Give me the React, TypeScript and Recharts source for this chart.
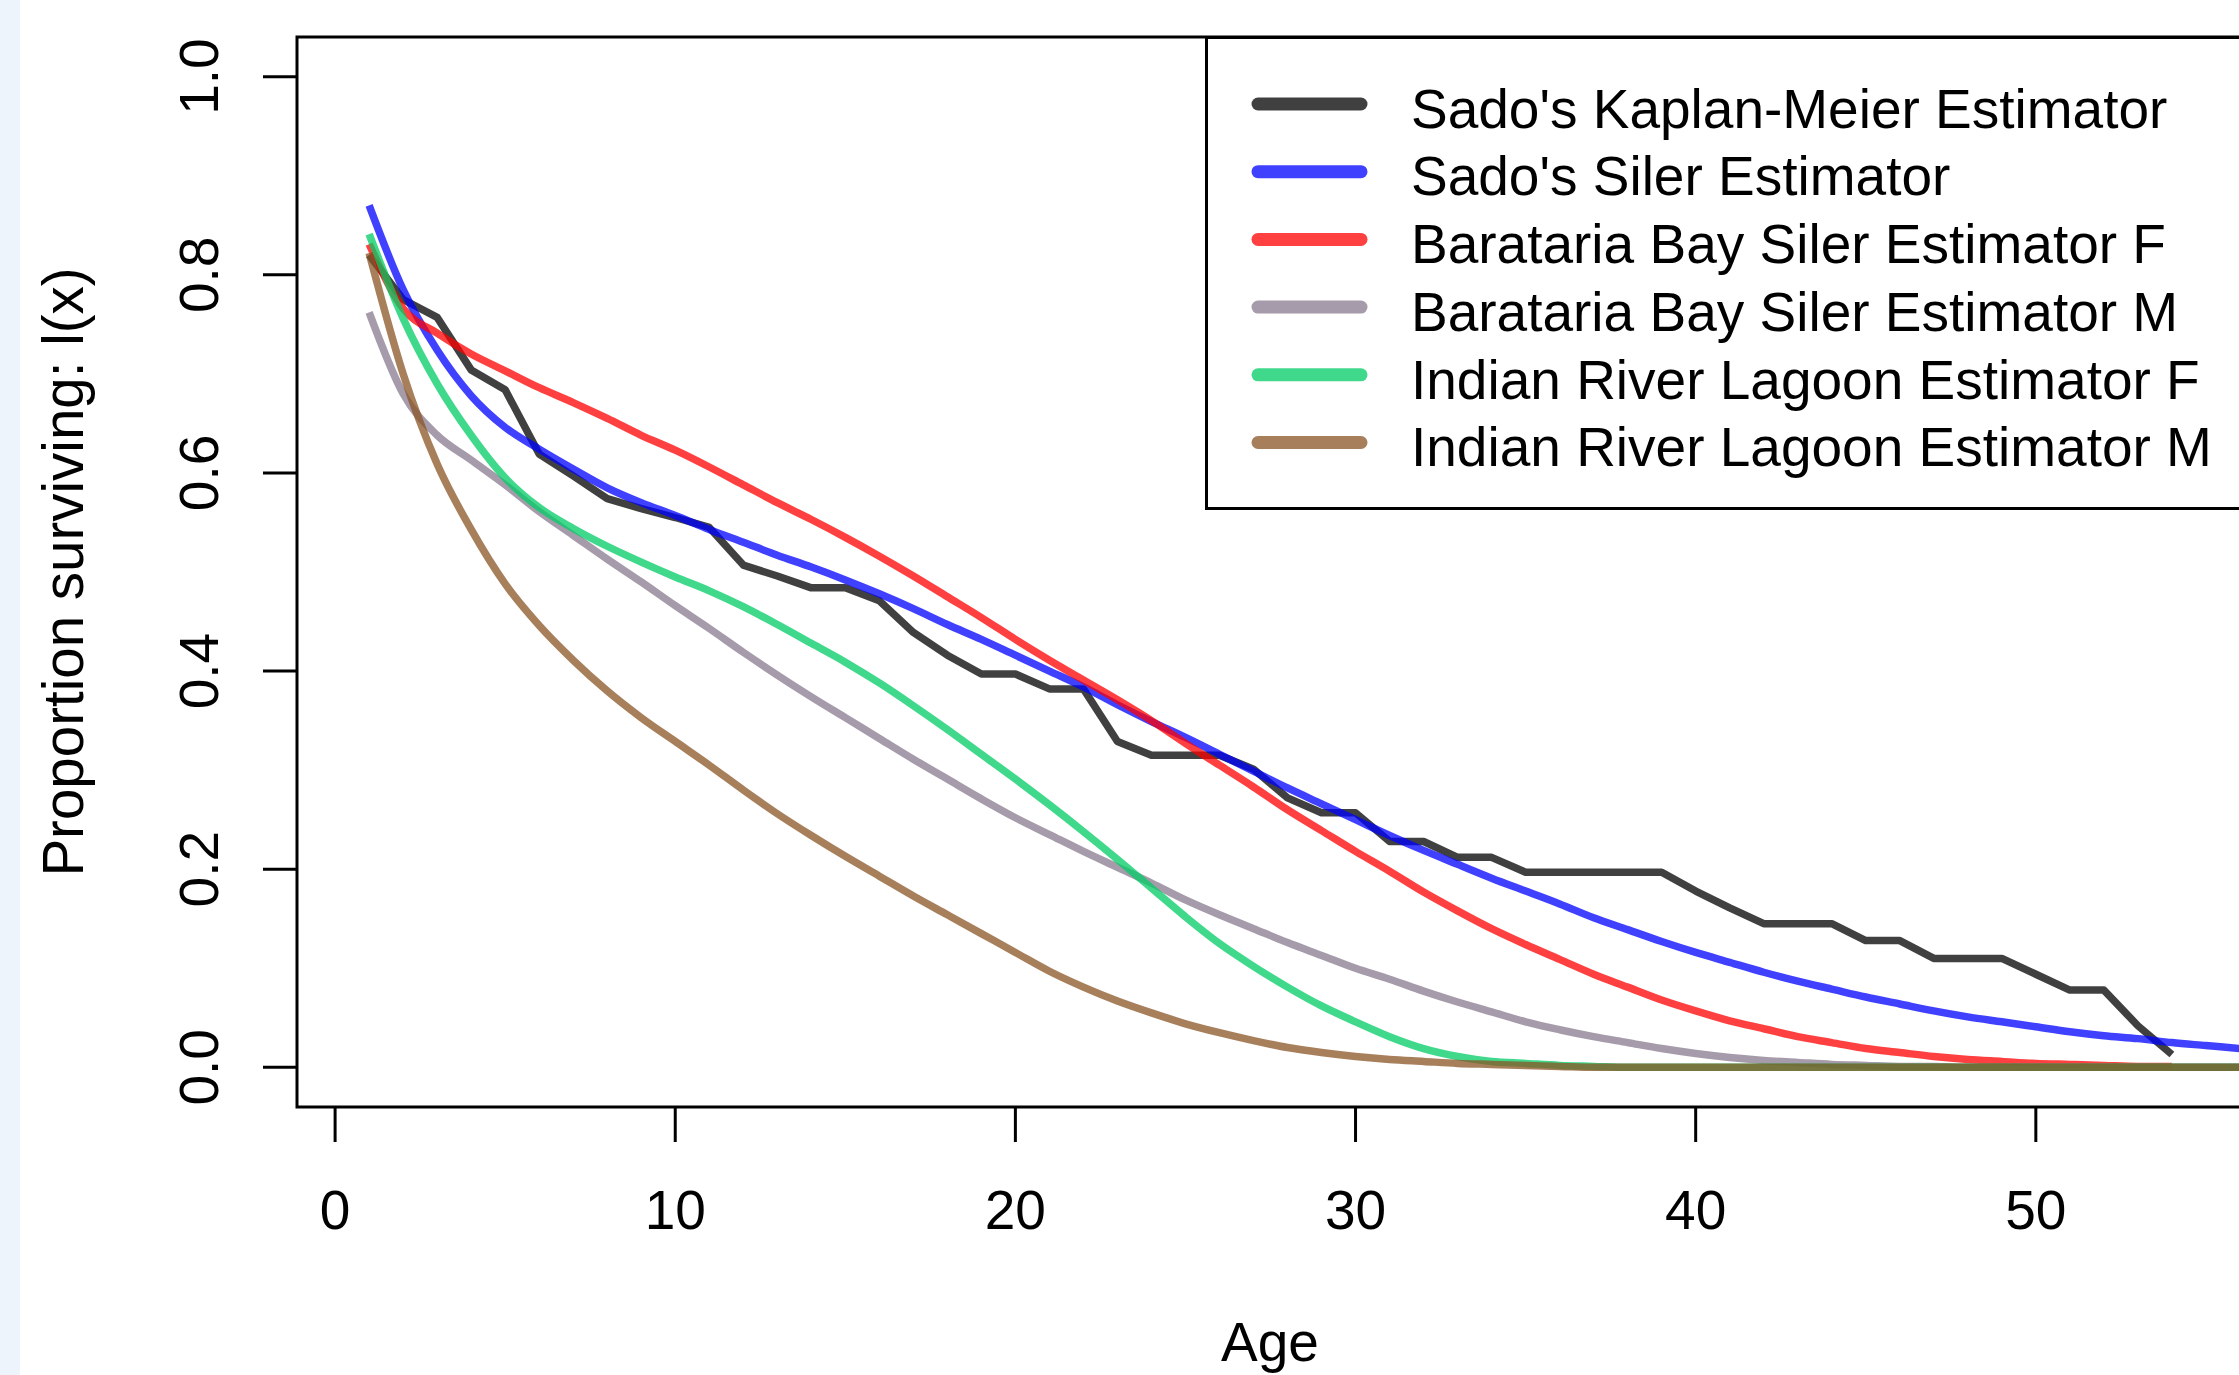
import { LineChart, Line, XAxis, YAxis, ReferenceArea } from 'recharts'

// ages 1..56 (integer ages the curves are evaluated at)
const AGES = [
  1, 2, 3, 4, 5, 6, 7, 8, 9, 10, 11, 12, 13, 14, 15, 16, 17, 18, 19, 20,
  21, 22, 23, 24, 25, 26, 27, 28, 29, 30, 31, 32, 33, 34, 35, 36, 37, 38, 39, 40,
  41, 42, 43, 44, 45, 46, 47, 48, 49, 50, 51, 52, 53, 54, 55, 56,
]

const SADO_KM = [
  0.82, 0.775, 0.757, 0.704, 0.684, 0.619, 0.597, 0.574, 0.564, 0.555,
  0.545, 0.507, 0.496, 0.484, 0.484, 0.471, 0.439, 0.416, 0.397, 0.397,
  0.382, 0.382, 0.329, 0.315, 0.315, 0.315, 0.301, 0.272, 0.257, 0.257,
  0.228, 0.228, 0.212, 0.212, 0.197, 0.197, 0.197, 0.197, 0.197, 0.178,
  0.161, 0.145, 0.145, 0.145, 0.128, 0.128, 0.11, 0.11, 0.11, 0.094,
  0.078, 0.078, 0.042, 0.013,
]

const SADO_SILER = [
  0.87, 0.785, 0.724, 0.678, 0.646, 0.624, 0.604, 0.585, 0.57, 0.557,
  0.543, 0.53, 0.517, 0.505, 0.492, 0.478, 0.463, 0.447, 0.432, 0.416,
  0.4, 0.384, 0.366, 0.349, 0.333, 0.316, 0.299, 0.282, 0.266, 0.25,
  0.234, 0.219, 0.205, 0.191, 0.178, 0.165, 0.151, 0.139, 0.127, 0.116,
  0.106, 0.096, 0.087, 0.079, 0.071, 0.064, 0.057, 0.051, 0.046, 0.041,
  0.036, 0.032, 0.029, 0.025, 0.022, 0.019,
]

const BB_SILER_F = [
  0.831, 0.766, 0.741, 0.72, 0.703, 0.686, 0.671, 0.655, 0.638, 0.623,
  0.606, 0.588, 0.57, 0.553, 0.535, 0.516, 0.496, 0.475, 0.454, 0.432,
  0.411, 0.391, 0.371, 0.35, 0.327, 0.305, 0.283, 0.26, 0.239, 0.218,
  0.198, 0.177, 0.158, 0.14, 0.124, 0.109, 0.094, 0.081, 0.068, 0.057,
  0.047, 0.039, 0.031, 0.025, 0.019, 0.015, 0.011, 0.008, 0.006, 0.004,
  0.003, 0.002, 0.001, 0.001,
]

const BB_SILER_M = [
  0.762, 0.68, 0.638, 0.613, 0.588, 0.561, 0.537, 0.513, 0.49, 0.466,
  0.443, 0.419, 0.396, 0.374, 0.353, 0.332, 0.311, 0.291, 0.271, 0.252,
  0.235, 0.218, 0.202, 0.186, 0.169, 0.154, 0.14, 0.126, 0.113, 0.1,
  0.089, 0.077, 0.066, 0.056, 0.046, 0.038, 0.031, 0.025, 0.019, 0.014,
  0.01, 0.007, 0.005, 0.003, 0.002, 0.001, 0.001, 0, 0, 0,
  0, 0, 0, 0, 0, 0,
]

const IRL_F = [
  0.841, 0.756, 0.69, 0.638, 0.595, 0.565, 0.544, 0.526, 0.51, 0.495,
  0.481, 0.465, 0.447, 0.428, 0.409, 0.388, 0.365, 0.341, 0.316, 0.291,
  0.265, 0.238, 0.21, 0.181, 0.152, 0.125, 0.102, 0.081, 0.062, 0.046,
  0.031, 0.019, 0.011, 0.006, 0.004, 0.002, 0.001, 0, 0, 0,
  0, 0, 0, 0, 0, 0, 0, 0, 0, 0,
  0, 0, 0, 0, 0, 0,
]

const IRL_M = [
  0.822, 0.7, 0.609, 0.543, 0.488, 0.446, 0.411, 0.38, 0.353, 0.329,
  0.305, 0.28, 0.256, 0.234, 0.213, 0.193, 0.173, 0.154, 0.135, 0.116,
  0.097, 0.081, 0.067, 0.055, 0.044, 0.035, 0.027, 0.02, 0.015, 0.011,
  0.008, 0.006, 0.004, 0.003, 0.002, 0.001, 0, 0, 0, 0,
  0, 0, 0, 0, 0, 0, 0, 0, 0, 0,
  0, 0, 0, 0, 0, 0,
]

const X_TICKS = [0, 10, 20, 30, 40, 50]
const Y_TICKS = [0, 0.2, 0.4, 0.6, 0.8, 1.0]

// the KM estimate is a polyline, the fitted Siler curves are smooth
const SERIES = [
  { key: 'km', label: "Sado's Kaplan-Meier Estimator", color: '#000000', values: SADO_KM, curve: 'linear' },
  { key: 'sado', label: "Sado's Siler Estimator", color: '#0000FF', values: SADO_SILER, curve: 'monotone' },
  { key: 'bbF', label: 'Barataria Bay Siler Estimator F', color: '#FF0000', values: BB_SILER_F, curve: 'monotone' },
  { key: 'bbM', label: 'Barataria Bay Siler Estimator M', color: '#887A8D', values: BB_SILER_M, curve: 'monotone' },
  { key: 'irlF', label: 'Indian River Lagoon Estimator F', color: '#00CC66', values: IRL_F, curve: 'monotone' },
  { key: 'irlM', label: 'Indian River Lagoon Estimator M', color: '#895424', values: IRL_M, curve: 'monotone' },
]

const data = AGES.map((age, i) => {
  const row: Record<string, number | undefined> = { age }
  SERIES.forEach((s) => {
    row[s.key] = s.values[i]
  })
  return row
})

const FONT = '"Liberation Sans", Arial, Helvetica, sans-serif'
const FS = 55

const X_DOMAIN = [-1.12, 56.12]
const Y_DOMAIN = [-0.04, 1.04]

function YTick(props: any) {
  const { x, y, payload } = props
  return (
    <text
      x={x}
      y={y}
      transform={`rotate(-90, ${x}, ${y})`}
      textAnchor="middle"
      fontSize={FS}
      fontFamily={FONT}
      fill="#000"
    >
      {Number(payload.value).toFixed(1)}
    </text>
  )
}

export default function App() {
  return (
    <div
      style={{
        position: 'fixed',
        left: 0,
        top: 0,
        width: 2239,
        height: 1375,
        overflow: 'hidden',
        background: '#fff',
      }}
    >
      <div style={{ position: 'absolute', left: 0, top: 0, width: 20, height: 1375, background: '#EEF4FB' }} />
      <div style={{ position: 'absolute', left: 0, top: 0 }}>
        <LineChart width={2260} height={1375} data={data} margin={{ top: 37, right: 16, bottom: 0, left: 0 }}>
          <XAxis
            type="number"
            dataKey="age"
            domain={X_DOMAIN}
            allowDataOverflow
            ticks={X_TICKS}
            interval={0}
            height={268}
            axisLine={false}
            tickLine={{ stroke: '#000', strokeWidth: 3 }}
            tickSize={35}
            tickMargin={48}
            tick={{ fontSize: FS, fontFamily: FONT, fill: '#000' }}
          />
          <YAxis
            type="number"
            domain={Y_DOMAIN}
            allowDataOverflow
            ticks={Y_TICKS}
            interval={0}
            width={297}
            axisLine={false}
            tickLine={{ stroke: '#000', strokeWidth: 3 }}
            tickSize={34}
            tickMargin={45}
            tick={<YTick />}
          />
          {SERIES.map((s) => (
            <Line
              key={s.key}
              type={s.curve as any}
              dataKey={s.key}
              name={s.label}
              stroke={s.color}
              strokeOpacity={0.75}
              strokeWidth={7.5}
              strokeLinejoin="round"
              dot={false}
              activeDot={false}
              isAnimationActive={false}
            />
          ))}
          <ReferenceArea
            x1={X_DOMAIN[0]}
            x2={X_DOMAIN[1]}
            y1={Y_DOMAIN[0]}
            y2={Y_DOMAIN[1]}
            fill="none"
            stroke="#000"
            strokeWidth={3}
            ifOverflow="visible"
          />
        </LineChart>
      </div>
      {/* axis titles and legend, drawn like R's legend("topright") */}
      <svg
        width={2239}
        height={1375}
        style={{ position: 'absolute', left: 0, top: 0, pointerEvents: 'none' }}
        fontFamily={FONT}
        fontSize={FS}
      >
        <text
          x={83}
          y={572}
          transform="rotate(-90, 83, 572)"
          textAnchor="middle"
          fill="#000"
          fontSize={56.5}
        >
          Proportion surviving: l(x)
        </text>
        <text x={1270} y={1361} textAnchor="middle" fill="#000">
          Age
        </text>
        <rect x={1206.5} y={37.5} width={1100} height={471} fill="#fff" stroke="#000" strokeWidth={3} />
        {SERIES.map((s, i) => (
          <g key={s.key}>
            <line
              x1={1258}
              x2={1361}
              y1={104 + i * 67.7}
              y2={104 + i * 67.7}
              stroke={s.color}
              strokeOpacity={0.75}
              strokeWidth={13}
              strokeLinecap="round"
            />
            <text x={1411} y={127.7 + i * 67.7} fill="#000">
              {s.label}
            </text>
          </g>
        ))}
      </svg>
    </div>
  )
}
